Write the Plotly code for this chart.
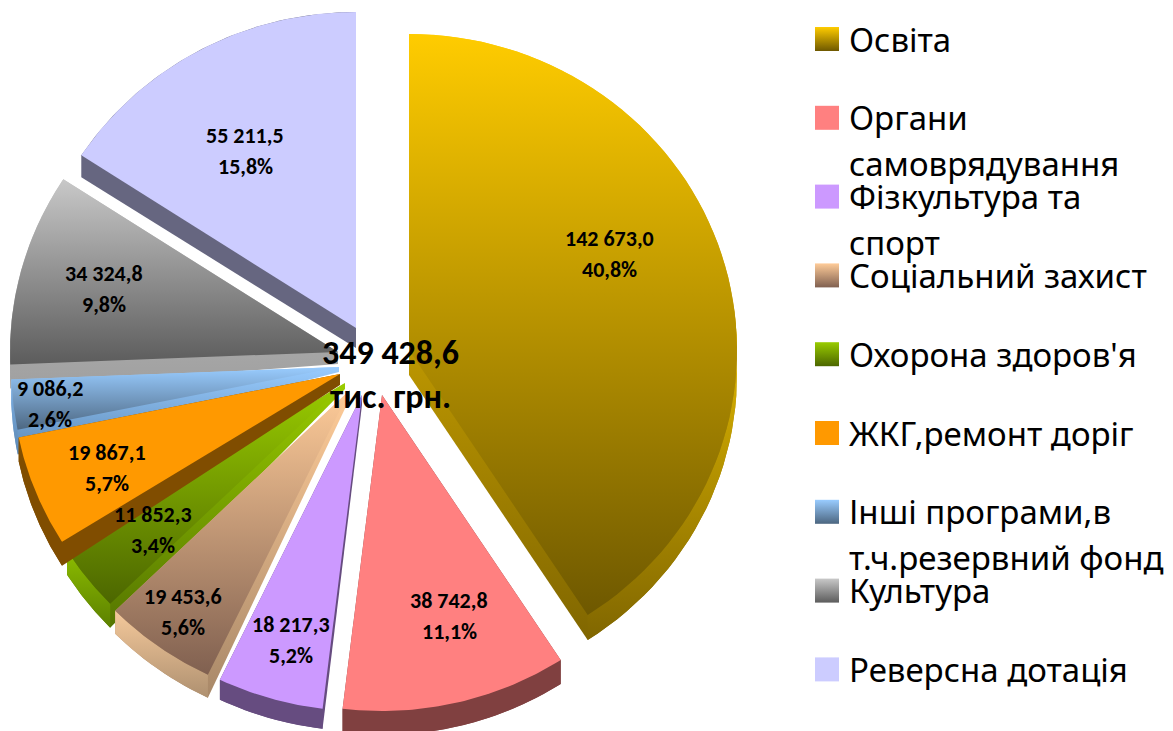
import numpy as np
import plotly.graph_objects as go

CATEGORIES = ["Освіта", "Органи самоврядування", "Фізкультура та спорт", "Соціальний захист",
              "Охорона здоров'я", "ЖКГ,ремонт доріг", "Інші програми,в т.ч.резервний фонд",
              "Культура", "Реверсна дотація"]
VALUES = [142673.0, 38742.8, 18217.3, 19453.6, 11852.3, 19867.1, 9086.2, 34324.8, 55211.5]
LEGEND_LINES = [["Освіта"], ["Органи", "самоврядування"], ["Фізкультура та", "спорт"],
                ["Соціальний захист"], ["Охорона здоров'я"], ["ЖКГ,ремонт доріг"],
                ["Інші програми,в", "т.ч.резервний фонд"], ["Культура"], ["Реверсна дотація"]]
TOTAL_LINES = ["349 428,6", "тис. грн."]

# styling / layout
W, H = 1173, 731
PAGE_MARGIN = 8
RX, RY = 328, 316
DEPTH_ARC = [25, 24, 20, 23, 24, 24, 24, 24, 22]
DEPTH_APEX = [25, 24, 10, 8, 6, 11, 5, 12, 20]
APEX_X = [409, 382, 362, 350, 345, 340, 339, 338, 356]
APEX_Y = [350, 395, 395, 390, 383, 374, 367, 352, 328]
LABEL_X = [609, 449, 291, 183, 153, 107, 50, 104, 245]
LABEL_Y = [254, 616, 640, 612, 530, 468, 404, 289, 151]
TOP_A = ["#FFCC00", "#FF8080", "#CC99FF", "#FFCC99", "#99CC00", "#FF9900", "#99CCFF", "#C8C8C8", "#CCCCFF"]
TOP_B = ["#6E5800", "#FF8080", "#CC99FF", "#806050", "#4C6600", "#FF9900", "#4C6680", "#5C5C5C", "#CCCCFF"]
CUT_A = ["#FFCC00", "#804040", "#664C80", "#FFCC99", "#99CC00", "#804D00", "#99CCFF", "#C0C0C0", "#666680"]
CUT_B = ["#806600", "#804040", "#664C80", "#A88868", "#557500", "#804D00", "#5C88B4", "#A0A0A0", "#666680"]
OUTER_A = ["#E6BC00", "#804040", "#664C80", "#F5C99B", "#8DBE00", "#804D00", "#7FB2E6", "#B8B8B8", "#666680"]
OUTER_B = ["#806600", "#804040", "#664C80", "#AE9070", "#5C8000", "#804D00", "#5C88B4", "#A8A8A8", "#666680"]
DRAW_ORDER = [8, 7, 6, 4, 5, 3, 2, 1, 0]
LEGEND_SWATCH_X, LEGEND_TEXT_X, LEGEND_Y0, LEGEND_PITCH, LEGEND_WRAP = 827, 847, 39, 78.8, 46


def hull(pts):
    pts = sorted(set(pts))
    def half(seq):
        out = []
        for p in seq:
            while len(out) > 1 and ((out[-1][0]-out[-2][0])*(p[1]-out[-2][1])
                                    - (out[-1][1]-out[-2][1])*(p[0]-out[-2][0])) <= 0:
                out.pop()
            out.append(p)
        return out[:-1]
    return half(pts) + half(pts[::-1])


def fill_trace(xs, ys, a, b):
    return go.Scatter(x=list(xs) + [xs[0]], y=list(ys) + [ys[0]], mode="lines", line=dict(width=0),
                      fill="toself", hoverinfo="skip", showlegend=False,
                      fillgradient=dict(type="vertical", start=min(ys), stop=max(ys),
                                        colorscale=[[0, a], [1, b]]))


total = sum(VALUES)
edges = np.cumsum([0] + VALUES) / total * 2 * np.pi
fig = go.Figure()
for i in DRAW_ORDER:
    th = np.linspace(edges[i], edges[i + 1], 70)
    ax = [float(v) for v in APEX_X[i] + RX * np.sin(th)]
    ay = [float(v) for v in APEX_Y[i] - RY * np.cos(th)]
    px = [APEX_X[i]] + ax
    py = [APEX_Y[i]] + ay
    h = hull(list(zip(map(float, px), map(float, py)))
             + [(a, b + DEPTH_ARC[i]) for a, b in zip(ax, ay)]
             + [(float(APEX_X[i]), float(APEX_Y[i] + DEPTH_APEX[i]))])
    fig.add_trace(fill_trace([p[0] for p in h], [p[1] for p in h], CUT_A[i], CUT_B[i]))
    # outer rim: only the part of the arc on the viewer's side
    front = [k for k, t in enumerate(th) if np.cos(t) < 0.15]
    if front:
        fx = [ax[k] for k in front]
        fy = [ay[k] for k in front]
        fig.add_trace(fill_trace(fx + fx[::-1], fy + [v + DEPTH_ARC[i] for v in fy[::-1]],
                                 OUTER_A[i], OUTER_B[i]))
    fig.add_trace(fill_trace(px, py, TOP_A[i], TOP_B[i]))

annotations = []
LABEL_FONT = "Carlito, Lato, 'Open Sans', sans-serif"
for i, v in enumerate(VALUES):
    whole, frac = f"{v:.1f}".split(".")
    vtxt = f"{int(whole):,}".replace(",", " ") + "," + frac
    ptxt = f"{v / total * 100:.1f}".replace(".", ",") + "%"
    for dy, t in ((-15.5, vtxt), (15.5, ptxt)):
        annotations.append(dict(x=LABEL_X[i], y=LABEL_Y[i] + dy, text=t, showarrow=False,
                                font=dict(family=LABEL_FONT, size=22, weight="bold", color="#000000")))
    yc = LEGEND_Y0 + i * LEGEND_PITCH
    fig.add_trace(go.Scatter(x=[LEGEND_SWATCH_X], y=[yc], mode="markers", hoverinfo="skip", showlegend=False,
                             marker=dict(symbol="square", size=24, color=TOP_A[i], line=dict(width=0),
                                         gradient=dict(type="vertical", color=TOP_B[i]))))
    for k, line in enumerate(LEGEND_LINES[i]):
        annotations.append(dict(x=LEGEND_TEXT_X, y=yc + k * LEGEND_WRAP, text=line, showarrow=False,
                                xanchor="left", font=dict(family="'Noto Sans'", size=33, color="#000000")))

for y, t in ((352, TOTAL_LINES[0]), (396, TOTAL_LINES[1])):
    annotations.append(dict(x=390, y=y, text=t, showarrow=False,
                            font=dict(family=LABEL_FONT, size=34, weight="bold", color="#000000")))

fig.update_layout(width=W - PAGE_MARGIN, height=H - PAGE_MARGIN, margin=dict(l=0, r=0, t=0, b=0),
                  paper_bgcolor="#FFFFFF", plot_bgcolor="#FFFFFF", showlegend=False, annotations=annotations,
                  xaxis=dict(range=[PAGE_MARGIN, W], visible=False, fixedrange=True),
                  yaxis=dict(range=[H, PAGE_MARGIN], visible=False, fixedrange=True))
fig.write_html("out.html")
